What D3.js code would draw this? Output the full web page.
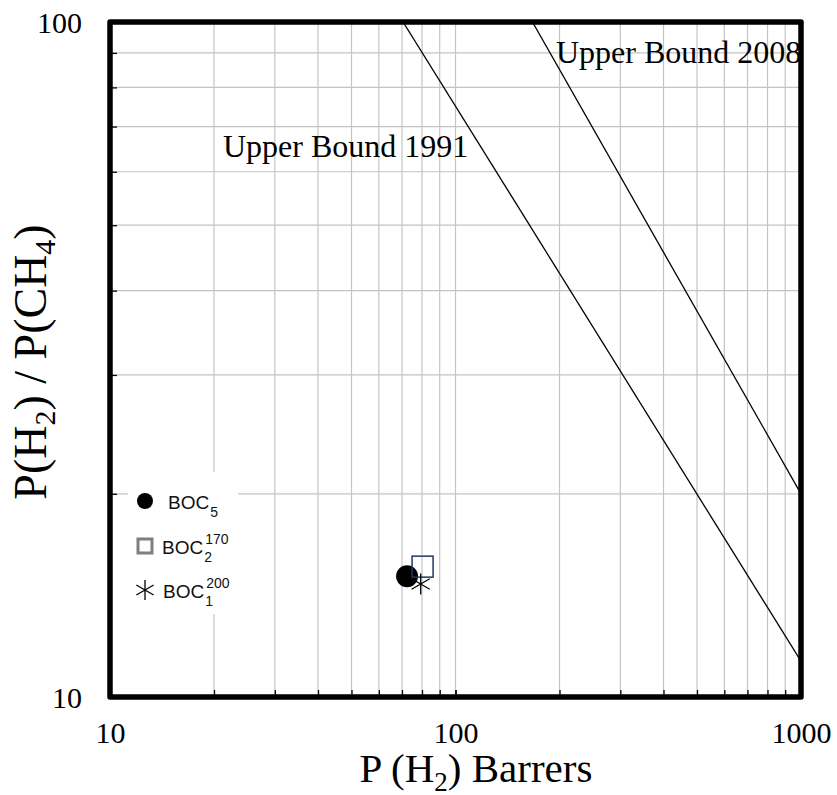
<!DOCTYPE html>
<html>
<head>
<meta charset="utf-8">
<script src="https://cdn.jsdelivr.net/npm/d3@7"></script>
<style>
  body { margin: 0; background: #fff; }
  svg { display: block; }
</style>
</head>
<body>
<div id="chart"></div>
<script>
// axis ranges and labelled ticks
var xDomain = [10, 1000];
var yDomain = [10, 100];
var xLabels = [10, 100, 1000];
var yLabels = [10, 100];

// Robeson upper bound lines (end points)
var bound1991 = [{ p: 70.5, a: 100 }, { p: 1000, a: 11.3 }];
var bound2008 = [{ p: 167, a: 100 }, { p: 1000, a: 20.0 }];
var boundNames = ["Upper Bound 1991", "Upper Bound 2008"];

// measured membranes
var boc5 = [{ p: 72.4, a: 15.1 }];
var boc2_170 = [{ p: 80.3, a: 15.6 }];
var boc1_200 = [{ p: 79.3, a: 14.7 }];

// legend text
var legendSub = ["5", "2", "1"];
var legendSup = ["", "170", "200"];

var W = 837, H = 795;
var pL = 110, pR = 801, pT = 22, pB = 697;

var svg = d3.select("#chart").append("svg")
  .attr("width", W)
  .attr("height", H);

var x = d3.scaleLog().domain(xDomain).range([pL, pR]);
var y = d3.scaleLog().domain(yDomain).range([pB, pT]);

var xMinor = x.ticks().filter(function(d) { return d > xDomain[0] && d < xDomain[1]; });
var yMinor = y.ticks().filter(function(d) { return d > yDomain[0] && d < yDomain[1]; });

// grid
svg.append("g").selectAll("line")
  .data(xMinor).enter().append("line")
  .attr("x1", function(d) { return x(d); })
  .attr("x2", function(d) { return x(d); })
  .attr("y1", pT).attr("y2", pB)
  .attr("stroke", "#c4c4c4").attr("stroke-width", 1.2);

svg.append("g").selectAll("line")
  .data(yMinor).enter().append("line")
  .attr("y1", function(d) { return y(d); })
  .attr("y2", function(d) { return y(d); })
  .attr("x1", pL).attr("x2", pR)
  .attr("stroke", "#c4c4c4").attr("stroke-width", 1.2);

// small inward ticks
svg.append("g")
  .attr("transform", "translate(0," + pB + ")")
  .call(d3.axisBottom(x).tickValues(xMinor.concat([100])).tickSize(-7).tickFormat(""))
  .call(function(g) { g.select(".domain").remove(); })
  .selectAll("line").attr("stroke", "#000").attr("stroke-width", 1.3);

svg.append("g")
  .attr("transform", "translate(" + pL + ",0)")
  .call(d3.axisLeft(y).tickValues(yMinor).tickSize(-7).tickFormat(""))
  .call(function(g) { g.select(".domain").remove(); })
  .selectAll("line").attr("stroke", "#000").attr("stroke-width", 1.3);

var serif = "'Liberation Serif', 'Times New Roman', serif";
var sans = "'Liberation Sans', Arial, sans-serif";

// tick labels
var gx = svg.append("g")
  .attr("transform", "translate(0," + pB + ")")
  .call(d3.axisBottom(x).tickValues(xLabels).tickSize(0).tickPadding(25).tickFormat(d3.format("d")));
gx.select(".domain").remove();
gx.selectAll("text")
  .attr("font-family", serif)
  .attr("font-size", 30).attr("fill", "#000");

var gy = svg.append("g")
  .attr("transform", "translate(" + pL + ",0)")
  .call(d3.axisLeft(y).tickValues(yLabels).tickSize(0).tickPadding(28).tickFormat(d3.format("d")));
gy.select(".domain").remove();
gy.selectAll("text")
  .attr("font-family", serif)
  .attr("font-size", 30).attr("fill", "#000")
  .attr("dy", "0.36em");

// clip for bound lines
svg.append("clipPath").attr("id", "plotclip")
  .append("rect").attr("x", pL).attr("y", pT)
  .attr("width", pR - pL).attr("height", pB - pT);

var line = d3.line()
  .x(function(d) { return x(d.p); })
  .y(function(d) { return y(d.a); });

[bound1991, bound2008].forEach(function(b) {
  svg.append("path")
    .datum(b)
    .attr("d", line)
    .attr("clip-path", "url(#plotclip)")
    .attr("fill", "none")
    .attr("stroke", "#000")
    .attr("stroke-width", 1.3);
});

svg.append("text").attr("x", 223).attr("y", 157)
  .attr("font-family", serif).attr("font-size", 32)
  .text(boundNames[0]);
svg.append("text").attr("x", 556).attr("y", 63)
  .attr("font-family", serif).attr("font-size", 32)
  .text(boundNames[1]);

// data markers
svg.selectAll("circle.boc5")
  .data(boc5).enter().append("circle")
  .attr("cx", function(d) { return x(d.p); })
  .attr("cy", function(d) { return y(d.a); })
  .attr("r", 11)
  .attr("fill", "#000");

var sq = 21;
svg.selectAll("rect.boc2")
  .data(boc2_170).enter().append("rect")
  .attr("x", function(d) { return x(d.p) - sq / 2; })
  .attr("y", function(d) { return y(d.a) - sq / 2; })
  .attr("width", sq).attr("height", sq)
  .attr("fill", "none")
  .attr("stroke", "#203864")
  .attr("stroke-width", 1.5);

function star(g, cx, cy, r) {
  var s = r * 0.866;
  g.append("path")
    .attr("d", "M" + (cx - s) + "," + (cy - r / 2) + "L" + (cx + s) + "," + (cy + r / 2) +
      "M" + (cx - s) + "," + (cy + r / 2) + "L" + (cx + s) + "," + (cy - r / 2) +
      "M" + cx + "," + (cy - r) + "L" + cx + "," + (cy + r))
    .attr("stroke", "#000")
    .attr("stroke-width", 1.3)
    .attr("fill", "none");
}

boc1_200.forEach(function(d) { star(svg, x(d.p), y(d.a), 10.5); });

// frame
svg.append("rect")
  .attr("x", pL).attr("y", pT)
  .attr("width", pR - pL).attr("height", pB - pT)
  .attr("fill", "none")
  .attr("stroke", "#000")
  .attr("stroke-width", 5.5)
  .attr("stroke-linejoin", "round");

// legend
var leg = svg.append("g");
leg.append("rect")
  .attr("x", 128).attr("y", 472)
  .attr("width", 110).attr("height", 142)
  .attr("fill", "#fff");

var rowsY = [501, 546, 590];
leg.append("circle").attr("cx", 145).attr("cy", rowsY[0]).attr("r", 8).attr("fill", "#000");
leg.append("rect").attr("x", 138).attr("y", rowsY[1] - 7)
  .attr("width", 14).attr("height", 14)
  .attr("fill", "none").attr("stroke", "#7f7f7f").attr("stroke-width", 3);
star(leg, 145, rowsY[2], 10);

var textX = [168, 162, 163];
rowsY.forEach(function(cy, i) {
  var base = cy + 8;
  var t = leg.append("text")
    .attr("x", textX[i]).attr("y", base)
    .attr("font-family", sans).attr("font-size", 19)
    .attr("fill", "#111")
    .text("BOC");
  var w = t.node().getComputedTextLength();
  leg.append("text")
    .attr("x", textX[i] + w + 1).attr("y", base + 8)
    .attr("font-family", sans).attr("font-size", 14)
    .attr("fill", "#111")
    .text(legendSub[i]);
  if (legendSup[i]) {
    leg.append("text")
      .attr("x", textX[i] + w + 2).attr("y", base - 10)
      .attr("font-family", sans).attr("font-size", 14)
      .attr("fill", "#111")
      .text(legendSup[i]);
  }
});

// axis titles
var xt = svg.append("text")
  .attr("x", 476).attr("y", 782)
  .attr("text-anchor", "middle")
  .attr("font-family", serif).attr("font-size", 41);
xt.append("tspan").text("P (H");
xt.append("tspan").attr("dy", 9).attr("font-size", 27).text("2");
xt.append("tspan").attr("dy", -9).text(") Barrers");

var yt = svg.append("text")
  .attr("transform", "translate(46,362) rotate(-90)")
  .attr("text-anchor", "middle")
  .attr("font-family", serif).attr("font-size", 46);
yt.append("tspan").text("P(H");
yt.append("tspan").attr("dy", 9).attr("font-size", 30).text("2");
yt.append("tspan").attr("dy", -9).text(") / P(CH");
yt.append("tspan").attr("dy", 9).attr("font-size", 30).text("4");
yt.append("tspan").attr("dy", -9).text(")");
</script>
</body>
</html>
